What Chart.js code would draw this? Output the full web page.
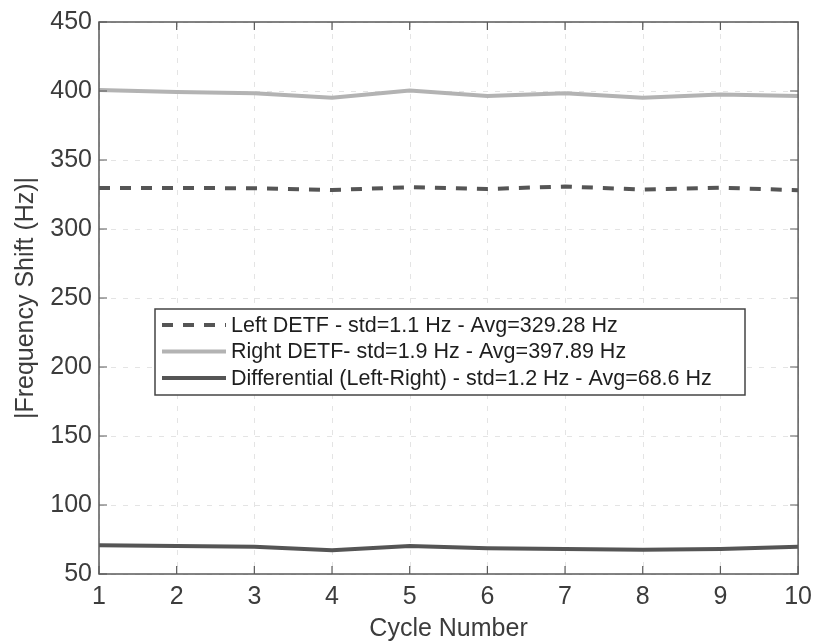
<!DOCTYPE html>
<html>
<head>
<meta charset="utf-8">
<script src="https://cdn.jsdelivr.net/npm/chart.js@4.4.1/dist/chart.umd.min.js"></script>
<style>
  html, body { margin: 0; padding: 0; background: #fff; }
  #wrap { width: 820px; height: 644px; position: relative; }
</style>
</head>
<body>
<div id="wrap"><canvas id="c" width="820" height="644"></canvas></div>
<script>
// Cycle numbers along the x axis
const cycles = [1, 2, 3, 4, 5, 6, 7, 8, 9, 10];

// Absolute frequency shift per cycle (Hz)
const leftDETF = [329.8, 329.8, 329.5, 328.3, 330.3, 329.0, 330.8, 328.6, 329.9, 328.1];
const rightDETF = [400.7, 399.3, 398.3, 395.2, 400.3, 396.4, 398.3, 395.2, 397.4, 396.4];
const differential = [70.9, 70.2, 69.7, 67.3, 70.2, 68.7, 68.2, 67.5, 68.2, 69.7];

// Legend entries
const seriesLabels = [
  'Left DETF - std=1.1 Hz - Avg=329.28 Hz',
  'Right DETF- std=1.9 Hz - Avg=397.89 Hz',
  'Differential (Left-Right) - std=1.2 Hz - Avg=68.6 Hz'
];

// Axis ticks
const xTicks = [1, 2, 3, 4, 5, 6, 7, 8, 9, 10];
const yTicks = [50, 100, 150, 200, 250, 300, 350, 400, 450];

const FONT = '"Liberation Sans", Arial, Helvetica, sans-serif';
const TEXT = '#3c3c3c';
const AXIS = '#5a5a5a';

const toXY = arr => arr.map((v, i) => ({ x: cycles[i], y: v }));

// Dashed grid underneath the data, boxed axes with inward ticks on top
const axesBox = {
  id: 'axesBox',
  beforeDatasetsDraw(chart) {
    const { ctx, chartArea: a, scales: { x, y } } = chart;
    ctx.save();
    ctx.strokeStyle = '#e4e4e4';
    ctx.lineWidth = 1;
    ctx.setLineDash([5, 7]);
    xTicks.forEach(t => {
      const px = Math.round(x.getPixelForValue(t)) + 0.5;
      ctx.beginPath(); ctx.moveTo(px, a.top); ctx.lineTo(px, a.bottom); ctx.stroke();
    });
    yTicks.forEach(t => {
      const py = Math.round(y.getPixelForValue(t)) + 0.5;
      ctx.beginPath(); ctx.moveTo(a.left, py); ctx.lineTo(a.right, py); ctx.stroke();
    });
    ctx.restore();
  },
  afterDatasetsDraw(chart) {
    const { ctx, chartArea: a, scales: { x, y } } = chart;
    ctx.save();
    ctx.setLineDash([]);
    ctx.strokeStyle = AXIS;
    ctx.lineWidth = 1.5;
    ctx.strokeRect(a.left, a.top, a.right - a.left, a.bottom - a.top);
    const tl = 8;
    ctx.lineWidth = 1.2;
    xTicks.forEach(t => {
      const px = x.getPixelForValue(t);
      ctx.beginPath();
      ctx.moveTo(px, a.bottom); ctx.lineTo(px, a.bottom - tl);
      ctx.moveTo(px, a.top); ctx.lineTo(px, a.top + tl);
      ctx.stroke();
    });
    yTicks.forEach(t => {
      const py = y.getPixelForValue(t);
      ctx.beginPath();
      ctx.moveTo(a.left, py); ctx.lineTo(a.left + tl, py);
      ctx.moveTo(a.right, py); ctx.lineTo(a.right - tl, py);
      ctx.stroke();
    });
    ctx.restore();
  }
};

// Boxed legend inside the plot area
const boxLegend = {
  id: 'boxLegend',
  afterDraw(chart) {
    const { ctx } = chart;
    const bx = 155, by = 309, bw = 590, rowH = 26.5;
    const bh = 16 + rowH * (chart.data.datasets.length - 1) + 17;
    ctx.save();
    ctx.fillStyle = '#fff';
    ctx.fillRect(bx, by, bw, bh);
    ctx.strokeStyle = '#444';
    ctx.lineWidth = 1.5;
    ctx.strokeRect(bx, by, bw, bh);
    ctx.font = '21.5px ' + FONT;
    ctx.textBaseline = 'middle';
    chart.data.datasets.forEach((ds, i) => {
      const cy = by + 16 + i * rowH;
      ctx.strokeStyle = ds.borderColor;
      ctx.lineWidth = ds.borderWidth;
      ctx.setLineDash(ds.borderDash || []);
      ctx.beginPath(); ctx.moveTo(bx + 7, cy); ctx.lineTo(bx + 71, cy); ctx.stroke();
      ctx.setLineDash([]);
      ctx.fillStyle = '#1e1e1e';
      ctx.fillText(ds.label, bx + 76, cy + 1);
    });
    ctx.restore();
  }
};

new Chart(document.getElementById('c'), {
  type: 'line',
  data: {
    datasets: [
      { label: seriesLabels[0], data: toXY(leftDETF), borderColor: '#555555', borderWidth: 4, borderDash: [11, 10], pointRadius: 0, tension: 0 },
      { label: seriesLabels[1], data: toXY(rightDETF), borderColor: '#b3b3b3', borderWidth: 4, pointRadius: 0, tension: 0 },
      { label: seriesLabels[2], data: toXY(differential), borderColor: '#555555', borderWidth: 4, pointRadius: 0, tension: 0 }
    ]
  },
  options: {
    responsive: false,
    animation: false,
    devicePixelRatio: 1,
    layout: { padding: { top: 19, right: 18, left: 0, bottom: 0 } },
    plugins: { legend: { display: false }, tooltip: { enabled: false } },
    scales: {
      x: {
        type: 'linear', min: 1, max: 10,
        afterBuildTicks: s => { s.ticks = xTicks.map(v => ({ value: v })); },
        afterFit: s => { s.height = 70; },
        grid: { display: false, drawTicks: false },
        border: { display: false },
        ticks: { color: TEXT, font: { family: FONT, size: 25 }, padding: 8, maxRotation: 0 },
        title: { display: true, text: 'Cycle Number', color: TEXT, font: { family: FONT, size: 25 }, padding: { top: 0, bottom: 0 } }
      },
      y: {
        type: 'linear', min: 50, max: 450,
        afterBuildTicks: s => { s.ticks = yTicks.map(v => ({ value: v })); },
        afterFit: s => { s.width = 99; },
        grid: { display: false, drawTicks: false },
        border: { display: false },
        ticks: { color: TEXT, font: { family: FONT, size: 25 }, padding: 7 },
        title: { display: true, text: '|Frequency Shift (Hz)|', color: TEXT, font: { family: FONT, size: 25 }, padding: { top: 11, bottom: 0 } }
      }
    }
  },
  plugins: [axesBox, boxLegend]
});
</script>
</body>
</html>
